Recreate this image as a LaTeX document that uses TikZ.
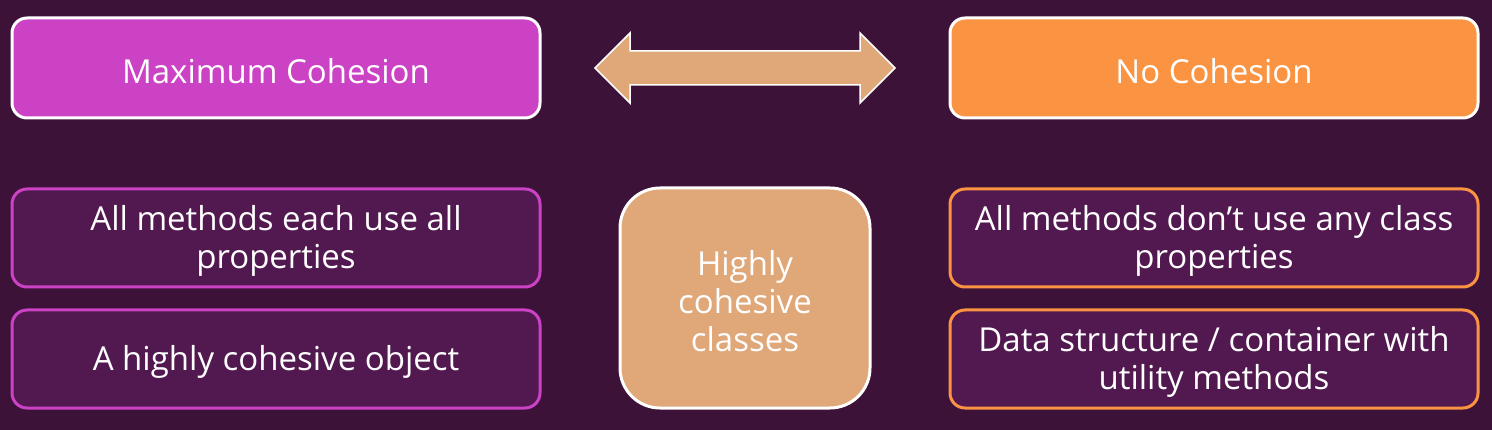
\documentclass[tikz,border=0pt]{standalone}
\usepackage{fontspec}
\setmainfont[Ligatures=NoCommon]{Open Sans}
\definecolor{bg}{HTML}{3C1239}
\definecolor{inner}{HTML}{521850}
\definecolor{mag}{HTML}{CB42C5}
\definecolor{org}{HTML}{FA9442}
\definecolor{tan}{HTML}{E0A779}
\begin{document}
\begin{tikzpicture}[x=1pt,y=-1pt,
  txt/.style={text=white, align=center, inner sep=0pt, font=\fontsize{33}{38}\selectfont, yshift=-3pt},
  box/.style={rounded corners=15pt, line width=3pt, minimum width=528pt, minimum height=100pt, inner sep=0pt},
  topl/.style={box, fill=mag, draw=white},
  topr/.style={box, fill=org, draw=white},
  subl/.style={box, fill=inner, draw=mag, minimum height=98pt},
  subr/.style={box, fill=inner, draw=org, minimum height=98pt},
  mid/.style={rounded corners=40pt, line width=3pt, fill=tan, draw=white, minimum width=250pt, minimum height=220pt, inner sep=0pt}
]
\fill[bg] (0,0) rectangle (1492,430);
\useasboundingbox (0,0) rectangle (1492,430);
\node[topl, label={[txt]center:Maximum Cohesion}] (maxc) at (276,68) {};
\node[topr, label={[txt]center:No Cohesion}] (noc) at (1214,68) {};
\node[subl, label={[txt]center:All methods each use all\\properties}] (l1) at (276,238) {};
\node[subl, label={[txt]center:A highly cohesive object}] (l2) at (276,359) {};
\node[subr, label={[txt]center:All methods don’t use any class\\properties}] (r1) at (1214,238) {};
\node[subr, label={[txt]center:Data structure / container with\\utility methods}] (r2) at (1214,359) {};
\node[mid, label={[txt]center:Highly\\cohesive\\classes}] (hc) at (745,298) {};
\draw[fill=tan, draw=white, line width=1.5pt, line join=miter]
  (595,68) -- (630,33) -- (630,51) -- (860,51) -- (860,33) -- (895,68)
  -- (860,103) -- (860,85) -- (630,85) -- (630,103) -- cycle;
\end{tikzpicture}
\end{document}
